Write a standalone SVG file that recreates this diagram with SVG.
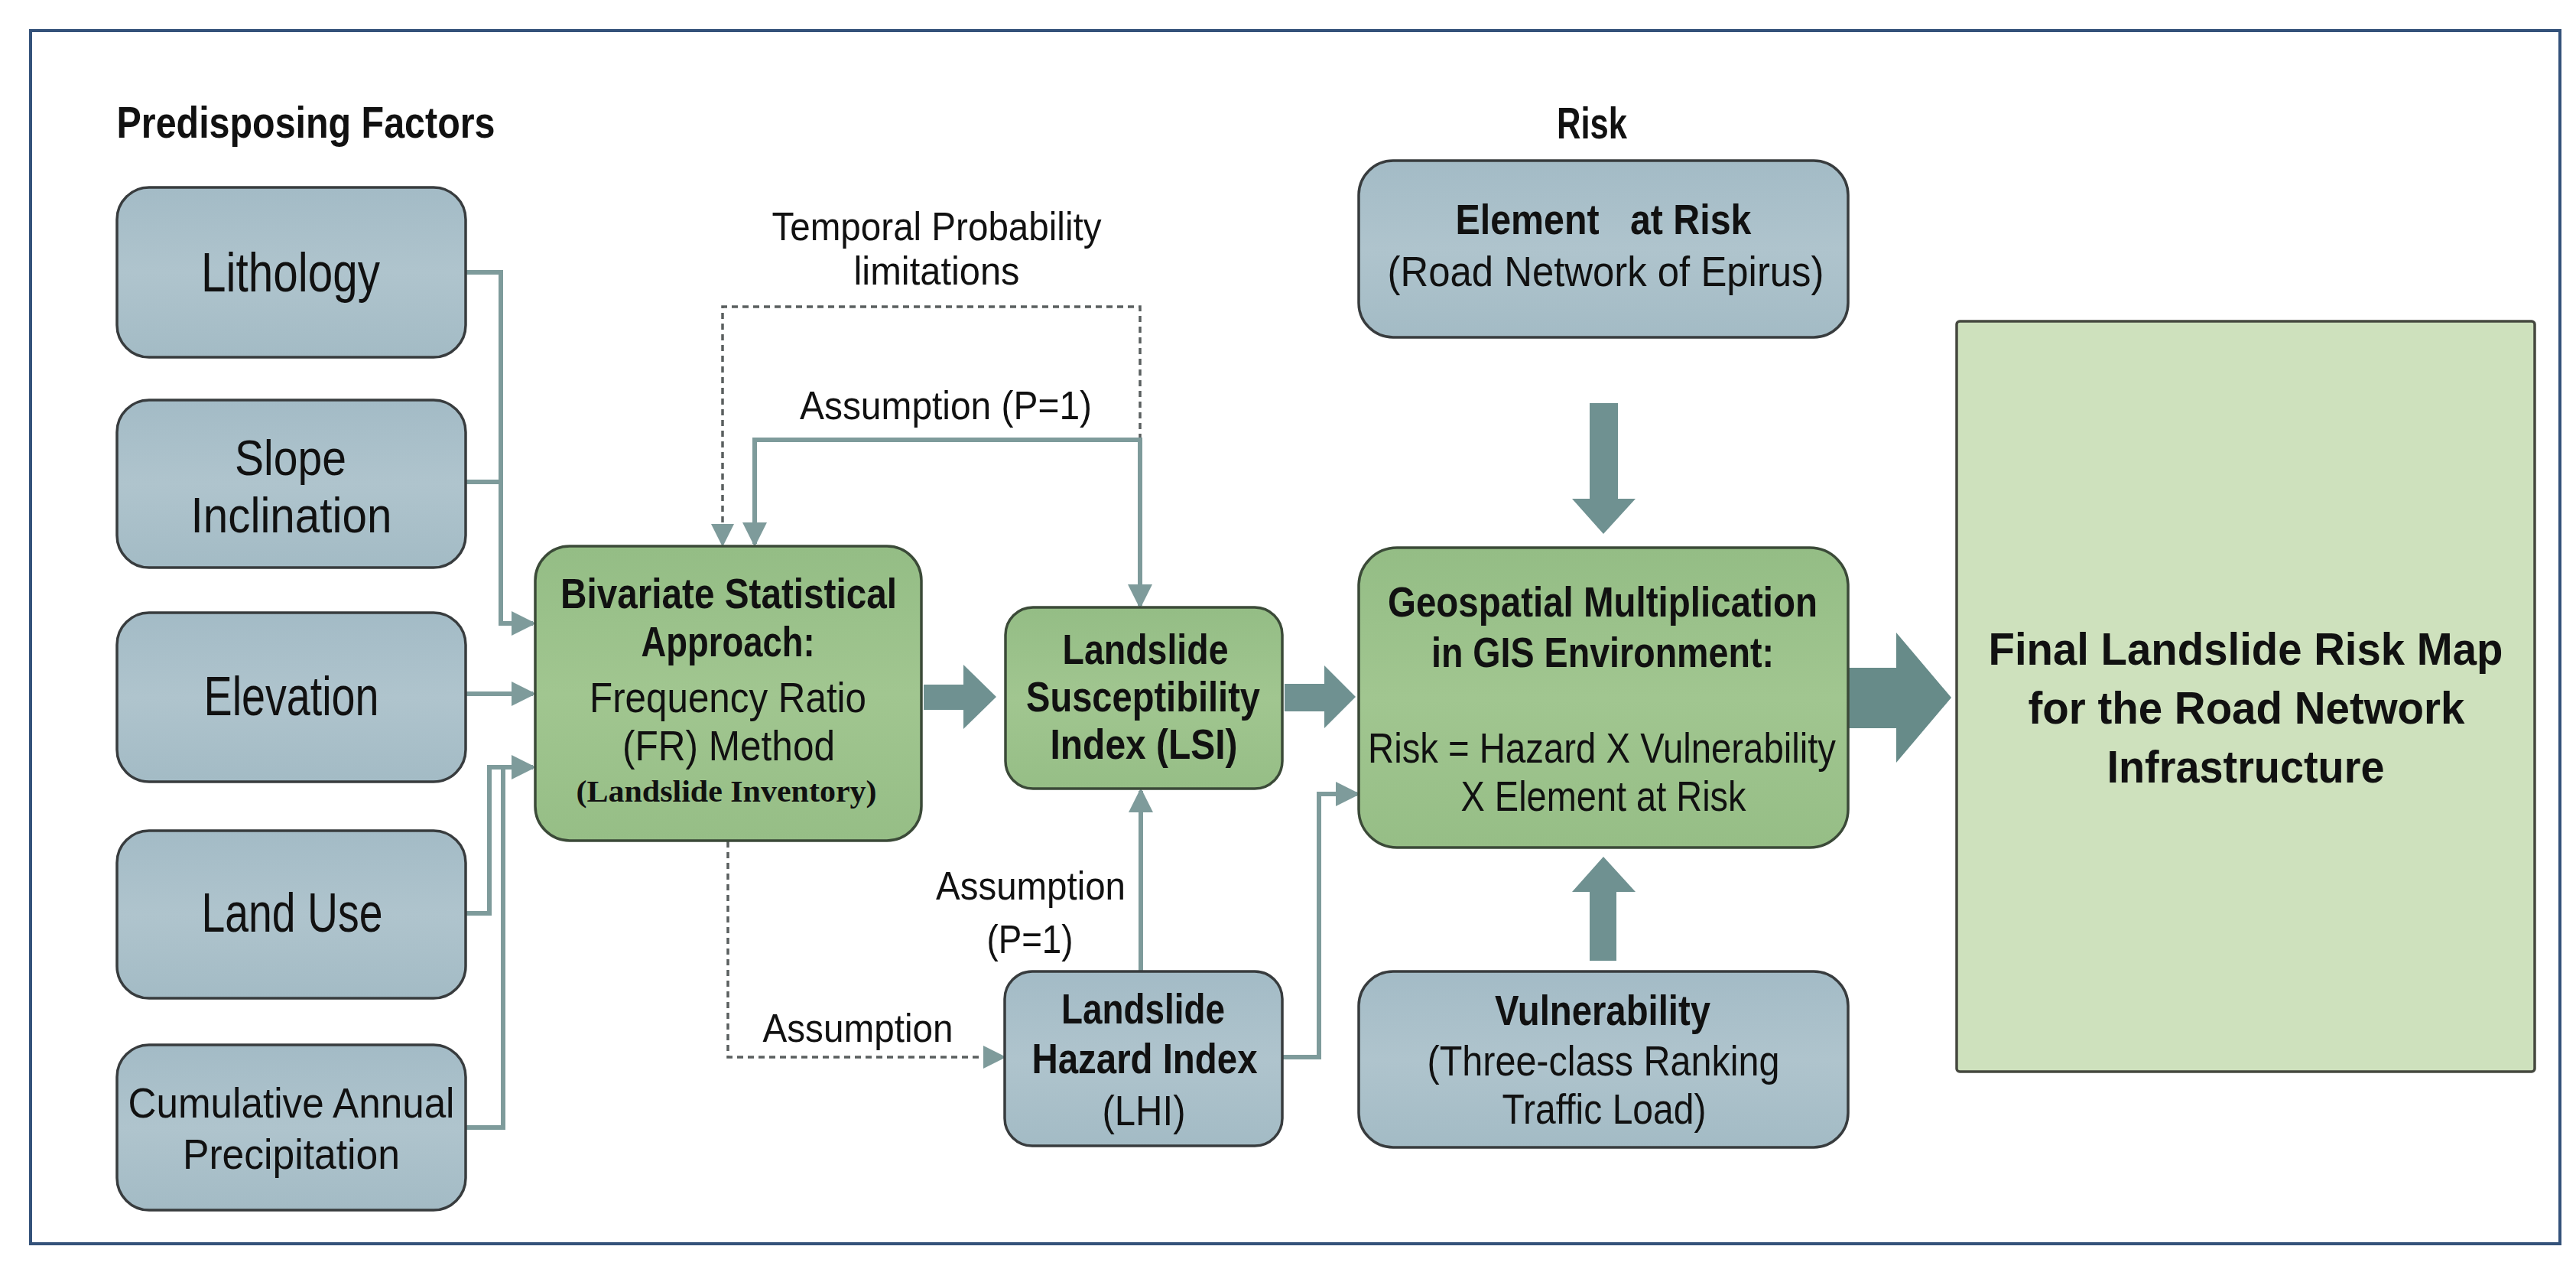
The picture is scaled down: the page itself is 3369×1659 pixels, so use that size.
<svg xmlns="http://www.w3.org/2000/svg" width="3369" height="1659" viewBox="0 0 3369 1659">
<defs>
<style>
text{font-family:"Liberation Sans",Arial,sans-serif;fill:#111;text-anchor:middle}
.b{font-weight:bold}
.h{font-size:58px;font-weight:bold}
.l{font-size:72px}
.l2{font-size:65px}
.m{font-size:56px}
.s{font-size:52px}
.f{font-size:60px;font-weight:bold}
.serif{font-family:"Liberation Serif","Times New Roman",serif;font-weight:bold;font-size:40px}
.blue{fill:url(#gb);stroke:#383c3e;stroke-width:3.5}
.green{fill:url(#gg);stroke:#3b4a38;stroke-width:3.5}
.final{fill:#cee1bd;stroke:#45483f;stroke-width:3.5}
.ln{fill:none;stroke:#7e9b9b;stroke-width:6}
.dot{fill:none;stroke:#5a5f5f;stroke-width:3.5;stroke-dasharray:8 6}
.thick{fill:#6f9191}
</style>
<linearGradient id="gb" x1="0" y1="0" x2="0" y2="1">
<stop offset="0" stop-color="#a3bbc6"/><stop offset="0.5" stop-color="#afc4cd"/><stop offset="1" stop-color="#a3bbc5"/>
</linearGradient>
<linearGradient id="gg" x1="0" y1="0" x2="0" y2="1">
<stop offset="0" stop-color="#94bd85"/><stop offset="0.5" stop-color="#a1c690"/><stop offset="1" stop-color="#96be86"/>
</linearGradient>
<marker id="ah" viewBox="0 0 32 32" refX="28" refY="16" markerWidth="32" markerHeight="32" markerUnits="userSpaceOnUse" orient="auto">
<path d="M0,0 L32,16 L0,32 Z" fill="#7e9b9b"/>
</marker>
<marker id="ahd" viewBox="0 0 30 30" refX="26" refY="15" markerWidth="30" markerHeight="30" markerUnits="userSpaceOnUse" orient="auto">
<path d="M0,0 L30,15 L0,30 Z" fill="#7e9b9b"/>
</marker>
</defs>
<rect x="0" y="0" width="3369" height="1659" fill="#ffffff"/>
<rect x="40" y="40" width="3308" height="1586" fill="#ffffff" stroke="#34527a" stroke-width="4"/>

<g id="titles">
<text class="h" x="400" y="180" textLength="495" lengthAdjust="spacingAndGlyphs">Predisposing Factors</text>
<text class="h" x="2082" y="181" textLength="92" lengthAdjust="spacingAndGlyphs">Risk</text>
</g>

<g id="connectors">
<path class="ln" d="M609,356 H655 V815 H697" marker-end="url(#ah)"/>
<path class="ln" d="M609,630 H655"/>
<path class="ln" d="M609,907 H697" marker-end="url(#ah)"/>
<path class="ln" d="M609,1194 H640 V1003 H697" marker-end="url(#ah)"/>
<path class="ln" d="M609,1474 H658 V1003"/>
<path class="dot" d="M1491,575 V401 H945 V711" marker-end="url(#ahd)"/>
<path class="ln" d="M1240,575 H987 V711" marker-end="url(#ah)"/>
<path class="ln" d="M1240,575 H1491 V792" marker-end="url(#ah)"/>
<path class="dot" d="M952,1100 V1382 H1312" marker-end="url(#ahd)"/>
<path class="ln" d="M1492,1270 V1034" marker-end="url(#ah)"/>
<path class="ln" d="M1677,1382 H1725 V1038 H1775" marker-end="url(#ah)"/>
<polygon class="thick" points="1208,895 1260,895 1260,869 1303,911 1260,953 1260,928 1208,928"/>
<polygon class="thick" points="1680,894 1732,894 1732,870 1773,911 1732,952 1732,930 1680,930"/>
<polygon class="thick" style="fill:#678b89" points="2417,873 2480,873 2480,827 2552,912 2480,997 2480,952 2417,952"/>
<polygon class="thick" points="2079,527 2116,527 2116,652 2139,652 2097,698 2056,652 2079,652"/>
<polygon class="thick" points="2097,1120 2139,1166 2114,1166 2114,1256 2079,1256 2079,1166 2056,1166"/>
<text class="s" x="1225" y="314" textLength="431" lengthAdjust="spacingAndGlyphs">Temporal Probability</text>
<text class="s" x="1225" y="372" textLength="217" lengthAdjust="spacingAndGlyphs">limitations</text>
<text class="s" x="1237" y="548" textLength="382" lengthAdjust="spacingAndGlyphs">Assumption (P=1)</text>
<text class="s" x="1348" y="1176" textLength="248" lengthAdjust="spacingAndGlyphs">Assumption</text>
<text class="s" x="1347" y="1246" textLength="113" lengthAdjust="spacingAndGlyphs">(P=1)</text>
<text class="s" x="1122" y="1362" textLength="249" lengthAdjust="spacingAndGlyphs">Assumption</text>
</g>

<g id="lithology">
<rect class="blue" x="153" y="245" width="456" height="222" rx="42"/>
<text class="l" x="380" y="381" textLength="234" lengthAdjust="spacingAndGlyphs">Lithology</text>
</g>
<g id="slope">
<rect class="blue" x="153" y="523" width="456" height="219" rx="42"/>
<text class="l2" x="380" y="621" textLength="146" lengthAdjust="spacingAndGlyphs">Slope</text>
<text class="l2" x="381" y="696" textLength="263" lengthAdjust="spacingAndGlyphs">Inclination</text>
</g>
<g id="elevation">
<rect class="blue" x="153" y="801" width="456" height="221" rx="42"/>
<text class="l" x="381" y="935" textLength="229" lengthAdjust="spacingAndGlyphs">Elevation</text>
</g>
<g id="landuse">
<rect class="blue" x="153" y="1086" width="456" height="219" rx="42"/>
<text class="l" x="382" y="1218" textLength="237" lengthAdjust="spacingAndGlyphs">Land Use</text>
</g>
<g id="precipitation">
<rect class="blue" x="153" y="1366" width="456" height="216" rx="42"/>
<text class="m" x="381" y="1461" textLength="427" lengthAdjust="spacingAndGlyphs">Cumulative Annual</text>
<text class="m" x="381" y="1528" textLength="284" lengthAdjust="spacingAndGlyphs">Precipitation</text>
</g>

<g id="bivariate">
<rect class="green" x="700" y="714" width="505" height="385" rx="45"/>
<text class="m b" x="953" y="795" textLength="440" lengthAdjust="spacingAndGlyphs">Bivariate Statistical</text>
<text class="m b" x="952" y="858" textLength="227" lengthAdjust="spacingAndGlyphs">Approach:</text>
<text class="m" x="952" y="931" textLength="362" lengthAdjust="spacingAndGlyphs">Frequency Ratio</text>
<text class="m" x="953" y="994" textLength="278" lengthAdjust="spacingAndGlyphs">(FR) Method</text>
<text class="serif" x="950" y="1048" textLength="393" lengthAdjust="spacingAndGlyphs">(Landslide Inventory)</text>
</g>

<g id="lsi">
<rect class="green" x="1315" y="794" width="362" height="237" rx="36"/>
<text class="m b" x="1498" y="868" textLength="217" lengthAdjust="spacingAndGlyphs">Landslide</text>
<text class="m b" x="1495" y="930" textLength="306" lengthAdjust="spacingAndGlyphs">Susceptibility</text>
<text class="m b" x="1496" y="992" textLength="245" lengthAdjust="spacingAndGlyphs">Index (LSI)</text>
</g>

<g id="lhi">
<rect class="blue" x="1314" y="1270" width="363" height="228" rx="36"/>
<text class="m b" x="1495" y="1338" textLength="214" lengthAdjust="spacingAndGlyphs">Landslide</text>
<text class="m b" x="1497" y="1403" textLength="295" lengthAdjust="spacingAndGlyphs">Hazard Index</text>
<text class="m" x="1496" y="1471" textLength="109" lengthAdjust="spacingAndGlyphs">(LHI)</text>
</g>

<g id="element">
<rect class="blue" x="1777" y="210" width="640" height="231" rx="45"/>
<text class="m b" x="2097" y="306" textLength="387" lengthAdjust="spacingAndGlyphs" style="white-space:pre">Element   at Risk</text>
<text class="m" x="2100" y="374" textLength="571" lengthAdjust="spacingAndGlyphs">(Road Network of Epirus)</text>
</g>

<g id="geospatial">
<rect class="green" x="1777" y="716" width="640" height="392" rx="50"/>
<text class="m b" x="2096" y="806" textLength="562" lengthAdjust="spacingAndGlyphs">Geospatial Multiplication</text>
<text class="m b" x="2096" y="872" textLength="448" lengthAdjust="spacingAndGlyphs">in GIS Environment:</text>
<text class="m" x="2095" y="997" textLength="612" lengthAdjust="spacingAndGlyphs">Risk = Hazard X Vulnerability</text>
<text class="m" x="2097" y="1060" textLength="373" lengthAdjust="spacingAndGlyphs">X Element at Risk</text>
</g>

<g id="vulnerability">
<rect class="blue" x="1777" y="1270" width="640" height="230" rx="45"/>
<text class="m b" x="2096" y="1340" textLength="282" lengthAdjust="spacingAndGlyphs">Vulnerability</text>
<text class="m" x="2097" y="1406" textLength="461" lengthAdjust="spacingAndGlyphs">(Three-class Ranking</text>
<text class="m" x="2098" y="1469" textLength="267" lengthAdjust="spacingAndGlyphs">Traffic Load)</text>
</g>

<g id="final">
<rect class="final" x="2559" y="420" width="756" height="981" rx="4"/>
<text class="f" x="2937" y="869" textLength="673" lengthAdjust="spacingAndGlyphs">Final Landslide Risk Map</text>
<text class="f" x="2938" y="946" textLength="571" lengthAdjust="spacingAndGlyphs">for the Road Network</text>
<text class="f" x="2937" y="1023" textLength="363" lengthAdjust="spacingAndGlyphs">Infrastructure</text>
</g>
</svg>
